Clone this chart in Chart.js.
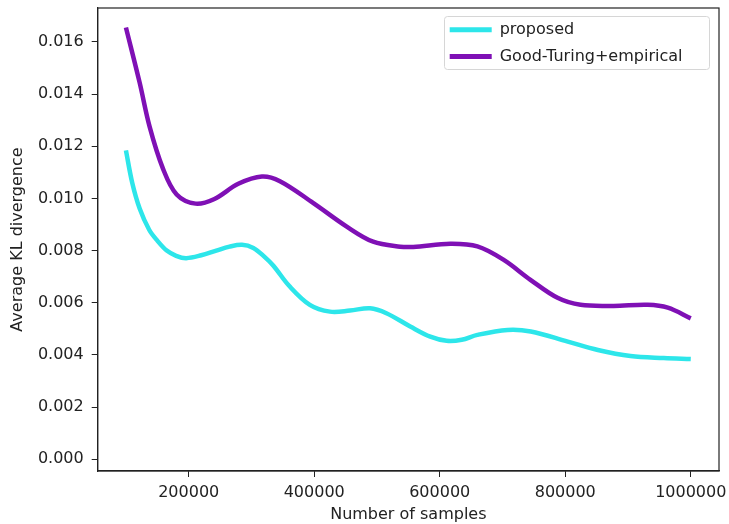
<!DOCTYPE html>
<html>
<head>
<meta charset="utf-8">
<script src="https://cdn.jsdelivr.net/npm/chart.js@4.4.1/dist/chart.umd.min.js"></script>
<style>
    html, body { margin: 0; padding: 0; background: #fff; }
    #wrap { width: 729px; height: 524px; }
</style>
</head>
<body>
<div id="wrap"><canvas id="klChart" width="729" height="524"></canvas></div>
<script>
// valeurs
var seriesLabels = ['proposed', 'Good-Turing+empirical'];

var proposedX = [100000, 110000, 122000, 137000, 150000, 165000, 180000, 196000, 220000, 244000,
    265000, 285000, 303000, 320000, 335000, 360000, 393000, 425000, 457000, 489000,
    515000, 553000, 585000, 611000, 635000, 660000, 708000, 745000, 804000, 852000,
    904000, 957000, 1000000];
var proposedY = [0.01184, 0.01060, 0.00960, 0.00880, 0.00838, 0.00800, 0.00780, 0.00771, 0.00782, 0.00800,
    0.00815, 0.00822, 0.00810, 0.00778, 0.00742, 0.00665, 0.00592, 0.00566, 0.00570, 0.00579,
    0.00560, 0.00509, 0.00470, 0.00454, 0.00458, 0.00477, 0.00496, 0.00490, 0.00451, 0.00419,
    0.00396, 0.00388, 0.00384];

var goodTuringX = [100000, 121800, 137700, 158700, 180800, 211000, 241000, 279000, 316600, 345400,
    398100, 452400, 493900, 537000, 557800, 616900, 660000, 701400, 744500,
    787700, 824400, 877100, 931400, 963400, 1000000];
var goodTuringY = [0.01655, 0.01444, 0.01275, 0.01116, 0.01015, 0.00980, 0.00998, 0.01056, 0.01084, 0.01066,
    0.00983, 0.00891, 0.00834, 0.00815, 0.00814, 0.00826, 0.00816, 0.00765, 0.00688,
    0.00619, 0.00592, 0.00588, 0.00592, 0.00581, 0.00540];

var xTicks = [200000, 400000, 600000, 800000, 1000000];
var yTicks = [0, 0.002, 0.004, 0.006, 0.008, 0.010, 0.012, 0.014, 0.016];

function toPoints(xs, ys) {
    return xs.map(function (x, i) { return { x: x, y: ys[i] }; });
}

Chart.defaults.font.family = 'DejaVu Sans';
Chart.defaults.font.size = 16;
Chart.defaults.color = '#222';

// cadre autour de la zone + cadre de la legende
var cadre = {
    id: 'cadre',
    afterLayout: function (chart) {
        var lg = chart.legend;
        var area = chart.chartArea;
        lg.left = area.right - 280;
        lg.top = area.top + 3;
        lg.right = lg.left + lg.width;
        lg.bottom = area.bottom;
    },
    beforeDraw: function (chart) {
        var ctx = chart.ctx;
        var area = chart.chartArea;
        ctx.save();
        ctx.fillStyle = 'rgba(255,255,255,0.8)';
        ctx.strokeStyle = '#d6d6d6';
        ctx.lineWidth = 1;
        ctx.beginPath();
        ctx.roundRect(area.right - 274.5, area.top + 8.5, 265, 53, 3);
        ctx.fill();
        ctx.stroke();
        ctx.restore();
    },
    afterDraw: function (chart) {
        var ctx = chart.ctx;
        var area = chart.chartArea;
        ctx.save();
        ctx.strokeStyle = '#222';
        ctx.lineWidth = 1.2;
        ctx.strokeRect(area.left, area.top, area.right - area.left, area.bottom - area.top);
        ctx.restore();
    }
};

var ctx = document.getElementById('klChart');
var myChart = new Chart(ctx, {
    type: 'line',
    data: {
        datasets: [{
            label: seriesLabels[0],
            data: toPoints(proposedX, proposedY),
            borderColor: '#2de6ea',
            backgroundColor: '#2de6ea',
            borderWidth: 4.5,
            pointRadius: 0,
            tension: 0.35,
            fill: false
        }, {
            label: seriesLabels[1],
            data: toPoints(goodTuringX, goodTuringY),
            borderColor: '#7f10b5',
            backgroundColor: '#7f10b5',
            borderWidth: 4.5,
            pointRadius: 0,
            tension: 0.35,
            fill: false
        }]
    },
    options: {
        responsive: false,
        animation: false,
        layout: { padding: { left: 0, top: 8, right: 10, bottom: 0 } },
        plugins: {
            tooltip: { enabled: false },
            legend: {
                position: 'chartArea',
                align: 'start',
                labels: {
                    boxWidth: 42,
                    boxHeight: 5,
                    padding: 10.7,
                    color: '#222',
                    generateLabels: function (chart) {
                        return chart.data.datasets.map(function (ds, i) {
                            return {
                                text: ds.label,
                                fillStyle: ds.borderColor,
                                strokeStyle: ds.borderColor,
                                lineWidth: 0,
                                hidden: false,
                                datasetIndex: i,
                                fontColor: '#222'
                            };
                        });
                    }
                }
            }
        },
        scales: {
            x: {
                type: 'linear',
                min: 55000,
                max: 1045000,
                afterBuildTicks: function (scale) {
                    scale.ticks = xTicks.map(function (v) { return { value: v }; });
                },
                afterFit: function (scale) {
                    scale.height = 53;
                    scale.paddingLeft = 0;
                    scale.paddingRight = 0;
                },
                ticks: {
                    padding: 6,
                    maxRotation: 0,
                    autoSkip: false,
                    callback: function (v) { return String(v); }
                },
                grid: { drawOnChartArea: false, tickLength: 6, color: '#222' },
                border: { color: '#222', width: 1.2 },
                title: { display: true, text: 'Number of samples', padding: { top: 0, bottom: 0 } }
            },
            y: {
                min: -0.00045,
                max: 0.0173,
                afterBuildTicks: function (scale) {
                    scale.ticks = yTicks.map(function (v) { return { value: v }; });
                },
                afterFit: function (scale) {
                    scale.width = 97.7;
                    scale.paddingTop = 0;
                    scale.paddingBottom = 0;
                },
                ticks: {
                    padding: 8,
                    autoSkip: false,
                    callback: function (v) { return v.toFixed(3); }
                },
                grid: { drawOnChartArea: false, tickLength: 6, color: '#222' },
                border: { color: '#222', width: 1.2 },
                title: { display: true, text: 'Average KL divergence', padding: { top: 8.5, bottom: 0 } }
            }
        }
    },
    plugins: [cadre]
});
</script>
</body>
</html>
